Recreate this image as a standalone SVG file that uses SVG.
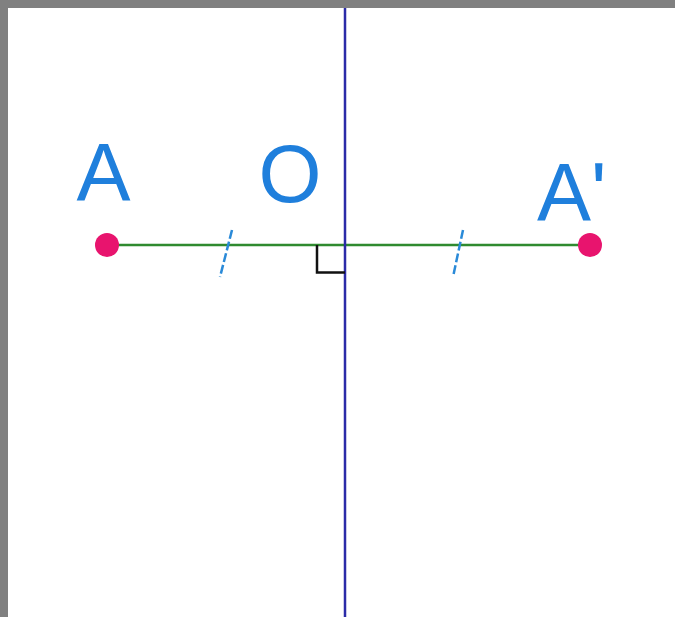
<svg xmlns="http://www.w3.org/2000/svg" width="675" height="617" viewBox="0 0 675 617">
<style>
.lbl{font-family:"Liberation Sans",Arial,sans-serif;font-size:81px;fill:#1f7fdc}
.pt{fill:#e8146e}
.tick{stroke:#2a8ad8;stroke-width:2.5;stroke-dasharray:9 3}
</style>
<rect x="0" y="0" width="675" height="617" fill="#ffffff"/>
<rect x="0" y="0" width="675" height="8" fill="#808080"/>
<rect x="0" y="0" width="8" height="617" fill="#808080"/>
<g id="connectors">
<line x1="107" y1="245" x2="590" y2="245" stroke="#2f8a2f" stroke-width="2.5"/>
<line x1="345" y1="8" x2="345" y2="617" stroke="#2b2ba8" stroke-width="2.5"/>
<polyline points="317,245 317,272.5 345,272.5" fill="none" stroke="#111111" stroke-width="2.5"/>
<line class="tick" x1="232" y1="230" x2="220" y2="277"/>
<line class="tick" x1="463" y1="230" x2="453" y2="277"/>
</g>
<g id="A">
<circle class="pt" cx="107" cy="245" r="12"/>
<text class="lbl" x="103.5" y="200" text-anchor="middle">A</text>
</g>
<g id="O">
<text class="lbl" x="290" y="202" text-anchor="middle">O</text>
</g>
<g id="A-prime">
<circle class="pt" cx="590" cy="245" r="12"/>
<text class="lbl" x="537" y="220">A'</text>
</g>
</svg>
